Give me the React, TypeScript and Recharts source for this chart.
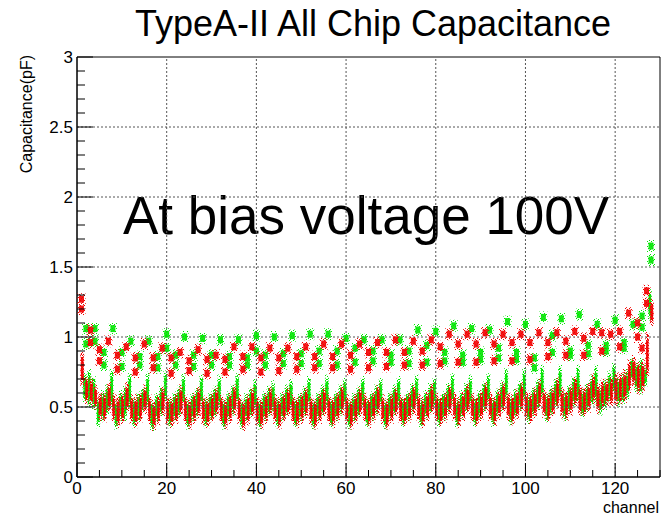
import React from 'react';
import { ComposedChart, XAxis, YAxis, Bar, Scatter, ReferenceLine, ReferenceArea } from 'recharts';

const FONT = '"Liberation Sans", Arial, Helvetica, sans-serif';
const RED = '#f20000';
const GREEN = '#00e600';

const channels = Array.from({ length: 128 }, (_, i) => i + 1);

// low band (per channel) [min, max]
const redLo = [
  0.66,0.54,0.53,0.50, 0.42,0.41,0.48,0.41, 0.37,0.40,0.48,0.40, 0.37,0.41,0.47,0.40,
  0.35,0.39,0.45,0.39, 0.37,0.40,0.45,0.40, 0.36,0.40,0.44,0.39, 0.37,0.41,0.45,0.40,
  0.36,0.40,0.46,0.40, 0.35,0.39,0.44,0.39, 0.36,0.40,0.45,0.40, 0.36,0.41,0.45,0.40,
  0.37,0.40,0.44,0.39, 0.36,0.40,0.45,0.40, 0.37,0.41,0.46,0.40, 0.36,0.40,0.45,0.41,
  0.37,0.41,0.46,0.40, 0.36,0.40,0.45,0.40, 0.38,0.41,0.46,0.41, 0.37,0.42,0.47,0.41,
  0.38,0.41,0.46,0.42, 0.37,0.42,0.47,0.41, 0.38,0.42,0.48,0.42, 0.38,0.43,0.48,0.42,
  0.39,0.43,0.48,0.43, 0.40,0.44,0.50,0.44, 0.41,0.45,0.51,0.44, 0.42,0.46,0.52,0.46,
  0.45,0.48,0.54,0.47, 0.50,0.52,0.52,0.52, 0.54,0.55,0.62,0.66, 0.61,0.62,0.73,1.10,
];
const redHi = [
  0.88,0.70,0.69,0.64, 0.59,0.59,0.66,0.58, 0.57,0.58,0.66,0.57, 0.57,0.58,0.64,0.57,
  0.53,0.57,0.63,0.56, 0.55,0.58,0.64,0.57, 0.54,0.58,0.63,0.56, 0.55,0.58,0.63,0.57,
  0.54,0.58,0.64,0.57, 0.53,0.57,0.62,0.56, 0.54,0.58,0.63,0.57, 0.55,0.59,0.63,0.57,
  0.55,0.58,0.62,0.56, 0.54,0.58,0.63,0.57, 0.55,0.59,0.64,0.57, 0.54,0.58,0.63,0.58,
  0.55,0.59,0.64,0.57, 0.54,0.58,0.63,0.57, 0.56,0.59,0.64,0.58, 0.55,0.60,0.65,0.58,
  0.56,0.59,0.64,0.59, 0.55,0.60,0.65,0.58, 0.56,0.60,0.66,0.59, 0.56,0.61,0.66,0.59,
  0.57,0.61,0.66,0.60, 0.58,0.62,0.68,0.61, 0.59,0.63,0.69,0.62, 0.60,0.64,0.70,0.64,
  0.63,0.66,0.72,0.65, 0.68,0.68,0.70,0.73, 0.73,0.75,0.82,0.85, 0.80,0.82,1.02,1.25,
];
const greenLo = [
  null,0.55,0.52,0.50, 0.37,0.42,0.46,0.51, 0.36,0.42,0.42,0.50, 0.37,0.41,0.48,0.51,
  0.35,0.41,0.45,0.55, 0.37,0.42,0.45,0.53, 0.36,0.41,0.44,0.52, 0.37,0.42,0.45,0.52,
  0.36,0.42,0.46,0.53, 0.36,0.41,0.45,0.49, 0.36,0.42,0.45,0.48, 0.37,0.42,0.46,0.50,
  0.37,0.41,0.45,0.51, 0.36,0.42,0.46,0.52, 0.37,0.42,0.46,0.51, 0.36,0.41,0.45,0.52,
  0.37,0.42,0.46,0.51, 0.36,0.42,0.46,0.52, 0.38,0.42,0.47,0.53, 0.37,0.43,0.47,0.52,
  0.38,0.42,0.47,0.53, 0.37,0.43,0.48,0.53, 0.38,0.43,0.48,0.54, 0.38,0.44,0.49,0.56,
  0.39,0.44,0.49,0.56, 0.40,0.45,0.50,0.57, 0.41,0.46,0.51,0.57, 0.42,0.47,0.52,0.55,
  0.44,0.48,0.53,0.54, 0.46,0.50,0.55,0.61, 0.52,0.54,0.57,0.71, 0.62,0.61,0.66,1.14,
];
const greenHi = [
  null,0.73,0.75,0.70, 0.54,0.60,0.64,0.75, 0.52,0.60,0.63,0.72, 0.54,0.59,0.62,0.73,
  0.52,0.58,0.63,0.74, 0.54,0.59,0.63,0.72, 0.53,0.58,0.62,0.71, 0.54,0.59,0.63,0.71,
  0.53,0.59,0.64,0.72, 0.53,0.58,0.62,0.68, 0.53,0.59,0.63,0.67, 0.54,0.59,0.64,0.68,
  0.54,0.58,0.63,0.70, 0.53,0.59,0.64,0.71, 0.54,0.59,0.64,0.69, 0.53,0.58,0.63,0.70,
  0.54,0.59,0.64,0.69, 0.53,0.59,0.64,0.70, 0.55,0.59,0.65,0.71, 0.54,0.60,0.65,0.70,
  0.55,0.59,0.65,0.72, 0.54,0.60,0.66,0.71, 0.55,0.60,0.66,0.72, 0.55,0.61,0.67,0.76,
  0.56,0.61,0.67,0.76, 0.57,0.62,0.68,0.78, 0.58,0.63,0.69,0.78, 0.59,0.64,0.70,0.78,
  0.61,0.65,0.71,0.78, 0.63,0.68,0.74,0.80, 0.70,0.72,0.75,0.83, 0.80,0.83,0.78,1.32,
];

// upper clusters [channel, capacitance]
const redUpper: [number, number][] = [
  [1,1.27],[1,1.20],[3,1.05],[3,0.96],
  [5,0.91],[5,0.83],[7,0.97],
  [9,0.87],[9,0.77],[11,0.93],
  [13,0.85],[13,0.75],[15,0.95],
  [17,0.85],[17,0.78],[19,0.92],
  [21,0.85],[21,0.74],[23,0.89],
  [25,0.83],[25,0.76],[27,0.91],
  [29,0.84],[29,0.74],[31,0.87],
  [33,0.84],[33,0.75],[35,0.93],
  [37,0.86],[37,0.77],[39,0.93],
  [41,0.85],[41,0.75],[43,0.92],
  [45,0.85],[45,0.76],[47,0.92],
  [49,0.86],[49,0.77],[51,0.93],
  [53,0.86],[53,0.78],[55,0.95],
  [57,0.86],[57,0.78],[59,0.95],
  [61,0.87],[61,0.77],[63,0.95],
  [65,0.89],[65,0.78],[67,0.96],
  [69,0.89],[69,0.79],[71,0.98],
  [73,0.89],[73,0.80],[75,0.97],
  [77,0.90],[77,0.80],[79,0.98],
  [81,0.93],[81,0.81],[83,1.02],
  [85,0.95],[85,0.82],[87,1.02],
  [89,0.95],[89,0.82],[91,1.03],
  [93,0.95],[93,0.83],[95,1.02],
  [97,0.96],[97,0.83],[99,1.02],
  [101,0.96],[101,0.84],[103,1.03],
  [105,0.96],[105,0.86],[107,1.03],
  [109,0.97],[109,0.87],[111,1.04],
  [113,0.99],[113,0.87],[115,1.04],
  [117,1.03],[117,0.90],[119,1.02],
  [121,1.04],[121,0.93],[123,1.17],
  [125,1.10],[125,1.00],[126,0.92],[127,1.33],[127,1.24],
];
const greenUpper: [number, number][] = [
  [2,1.06],[2,0.95],[4,1.06],[4,0.97],
  [6,0.89],[6,0.80],[8,1.06],
  [10,0.89],[10,0.79],[12,0.97],
  [14,0.86],[14,0.80],[16,0.97],
  [18,0.86],[18,0.78],[20,1.02],[20,0.92],
  [22,0.87],[22,0.80],[24,1.00],
  [26,0.87],[26,0.79],[28,0.99],
  [30,0.87],[30,0.80],[32,0.98],
  [34,0.86],[34,0.80],[36,0.98],
  [38,0.85],[38,0.80],[40,1.01],[40,0.90],
  [42,0.87],[42,0.80],[44,1.00],
  [46,0.88],[46,0.81],[48,1.01],
  [50,0.88],[50,0.81],[52,1.02],
  [54,0.90],[54,0.81],[56,1.02],
  [58,0.90],[58,0.80],[60,0.99],
  [62,0.92],[62,0.82],[64,0.98],
  [66,0.90],[66,0.83],[68,0.98],
  [70,0.87],[70,0.82],[72,0.98],
  [74,0.90],[74,0.81],[76,1.05],
  [78,0.94],[78,0.82],[80,1.04],
  [82,0.89],[82,0.83],[84,1.08],
  [86,0.87],[86,0.82],[88,1.06],
  [90,0.89],[90,0.84],[92,1.05],
  [94,0.92],[94,0.85],[96,1.11],
  [98,0.89],[98,0.84],[100,1.09],
  [102,0.85],[102,0.78],[104,1.14],
  [106,0.89],[106,1.01],[108,1.13],
  [110,0.90],[110,0.87],[112,1.16],
  [114,0.94],[114,0.88],[116,1.09],
  [118,0.94],[118,0.90],[120,1.12],
  [122,0.96],[122,0.92],[124,1.09],
  [126,1.15],[126,1.07],[128,1.65],[128,1.55],
];

const xMajorTicks = [0, 20, 40, 60, 80, 100, 120];
const xAllTicks = [0,5,10,15,20,25,30,35,40,45,50,55,60,65,70,75,80,85,90,95,100,105,110,115,120,125,130];
const yMajorTicks = [0, 0.5, 1, 1.5, 2, 2.5, 3];
const yAllTicks = [0,0.1,0.2,0.3,0.4,0.5,0.6,0.7,0.8,0.9,1,1.1,1.2,1.3,1.4,1.5,1.6,1.7,1.8,1.9,2,2.1,2.2,2.3,2.4,2.5,2.6,2.7,2.8,2.9,3];
const yGrid = [0.5, 1, 1.5, 2, 2.5];
const xGrid = [20, 40, 60, 80, 100, 120];

const tableData = channels.map((ch, i) => ({
  ch,
  redLow: [redLo[i], redHi[i]],
  greenLow: greenLo[i] == null ? null : [greenLo[i], greenHi[i]],
}));
const redUpperData = redUpper.map(([ch, v]) => ({ ch, v }));
const greenUpperData = greenUpper.map(([ch, v]) => ({ ch, v }));

const isMajor = (list: number[], v: number) => list.some((m) => Math.abs(m - v) < 1e-6);

const YTick = (props: any) => {
  const { x, y, payload } = props;
  const v = payload.value;
  const major = isMajor(yMajorTicks, v);
  return (
    <g>
      <line x1={x} x2={x + (major ? 16 : 8)} y1={y} y2={y} stroke="#000" strokeWidth={1} />
      {major && (
        <text x={x - 4} y={y + 6} textAnchor="end" fontSize={17} fontFamily={FONT} fill="#000">
          {String(v)}
        </text>
      )}
    </g>
  );
};

const XTick = (props: any) => {
  const { x, y, payload } = props;
  const v = payload.value;
  const major = isMajor(xMajorTicks, v);
  return (
    <g>
      <line x1={x} x2={x} y1={y} y2={y - (major ? 14 : 7)} stroke="#000" strokeWidth={1} />
      {major && (
        <text x={x} y={y + 17} textAnchor="middle" fontSize={17} fontFamily={FONT} fill="#000">
          {String(v)}
        </text>
      )}
    </g>
  );
};

const makeStreak = (color: string, patId: string, densePat: string) => (props: any) => {
  const { x, y, width, height } = props;
  if (x == null || y == null || height == null || !isFinite(y) || !isFinite(height) || Math.abs(height) < 0.01) return <g />;
  const top = height < 0 ? y + height : y;
  const h = Math.abs(height);
  const cx = x + width / 2;
  return (
    <g>
      <rect x={cx - 2} y={top - 3} width={4} height={h + 6} fill={`url(#${patId})`} />
      <rect x={cx - 1.5} y={top} width={3} height={h} fill={`url(#${densePat})`} />
      <rect x={cx - 1.25} y={top + h * 0.15} width={2.5} height={h * 0.7} fill={color} fillOpacity={0.9} />
    </g>
  );
};

const makeCluster = (color: string, patId: string) => (props: any) => {
  const { cx, cy } = props;
  if (cx == null || cy == null) return <g />;
  return (
    <g>
      <rect x={cx - 4} y={cy - 6} width={8} height={12} fill={`url(#${patId})`} />
      <rect x={cx - 2.5} y={cy - 3.5} width={5} height={7} fill={color} fillOpacity={0.9} />
    </g>
  );
};

export default function App() {
  return (
    <div style={{ position: 'absolute', left: 0, top: 0, width: 662, height: 515, background: '#fff' }}>
      <ComposedChart
        width={662}
        height={515}
        data={tableData}
        margin={{ top: 57, right: 2, bottom: 8, left: 0 }}
        barGap={0}
      >
        <defs>
          <pattern id="redSpeck" width="4" height="5" patternUnits="userSpaceOnUse">
            <rect x="0" y="0" width="1" height="1" fill={RED} />
            <rect x="2" y="2" width="1" height="1" fill={RED} />
            <rect x="3" y="4" width="1" height="1" fill={RED} />
            <rect x="1" y="3" width="1" height="1" fill={RED} />
          </pattern>
          <pattern id="greenSpeck" width="4" height="5" patternUnits="userSpaceOnUse">
            <rect x="1" y="0" width="1" height="1" fill={GREEN} />
            <rect x="3" y="1" width="1" height="1" fill={GREEN} />
            <rect x="0" y="3" width="1" height="1" fill={GREEN} />
            <rect x="2" y="4" width="1" height="1" fill={GREEN} />
          </pattern>
          <pattern id="redDense" width="3" height="3" patternUnits="userSpaceOnUse">
            <rect x="0" y="0" width="1" height="1" fill={RED} />
            <rect x="1" y="1" width="1" height="1" fill={RED} />
            <rect x="2" y="2" width="1" height="1" fill={RED} />
            <rect x="2" y="0" width="1" height="1" fill={RED} />
          </pattern>
          <pattern id="greenDense" width="3" height="3" patternUnits="userSpaceOnUse">
            <rect x="1" y="0" width="1" height="1" fill={GREEN} />
            <rect x="0" y="1" width="1" height="1" fill={GREEN} />
            <rect x="2" y="1" width="1" height="1" fill={GREEN} />
            <rect x="1" y="2" width="1" height="1" fill={GREEN} />
          </pattern>
        </defs>
        <XAxis
          dataKey="ch"
          type="number"
          domain={[0, 130]}
          allowDataOverflow
          ticks={xAllTicks}
          interval={0}
          tick={<XTick />}
          tickLine={false}
          tickSize={0}
          tickMargin={0}
          axisLine={{ stroke: '#000', strokeWidth: 1 }}
          height={30}
        />
        <YAxis
          type="number"
          domain={[0, 3]}
          allowDataOverflow
          ticks={yAllTicks}
          interval={0}
          tick={<YTick />}
          tickLine={false}
          tickSize={0}
          tickMargin={0}
          axisLine={{ stroke: '#000', strokeWidth: 1 }}
          width={77}
        />
        {yGrid.map((v) => (
          <ReferenceLine key={'y' + v} y={v} stroke="#555" strokeWidth={1} strokeDasharray="2 2" />
        ))}
        {xGrid.map((v) => (
          <ReferenceLine key={'x' + v} x={v} stroke="#555" strokeWidth={1} strokeDasharray="2 2" />
        ))}
        <ReferenceArea x1={0} x2={130} y1={0} y2={3} fill="none" stroke="#000" strokeWidth={1} ifOverflow="visible" />
        <Bar dataKey="greenLow" barSize={2} shape={makeStreak(GREEN, 'greenSpeck', 'greenDense')} isAnimationActive={false} />
        <Bar dataKey="redLow" barSize={2} shape={makeStreak(RED, 'redSpeck', 'redDense')} isAnimationActive={false} />
        <Scatter data={greenUpperData} dataKey="v" shape={makeCluster(GREEN, 'greenSpeck')} isAnimationActive={false} />
        <Scatter data={redUpperData} dataKey="v" shape={makeCluster(RED, 'redSpeck')} isAnimationActive={false} />
        <text x={373} y={36} textAnchor="middle" fontSize={36} fontFamily={FONT} fill="#000">
          TypeA-II All Chip Capacitance
        </text>
        <text x={123} y={234} textAnchor="start" fontSize={53} fontFamily={FONT} fill="#000">
          At bias voltage 100V
        </text>
        <text
          x={0}
          y={0}
          transform="translate(32,55) rotate(-90)"
          textAnchor="end"
          fontSize={16}
          fontFamily={FONT}
          fill="#000"
        >
          Capacitance(pF)
        </text>
        <text x={659} y={513} textAnchor="end" fontSize={16} fontFamily={FONT} fill="#000">
          channel
        </text>
      </ComposedChart>
    </div>
  );
}
